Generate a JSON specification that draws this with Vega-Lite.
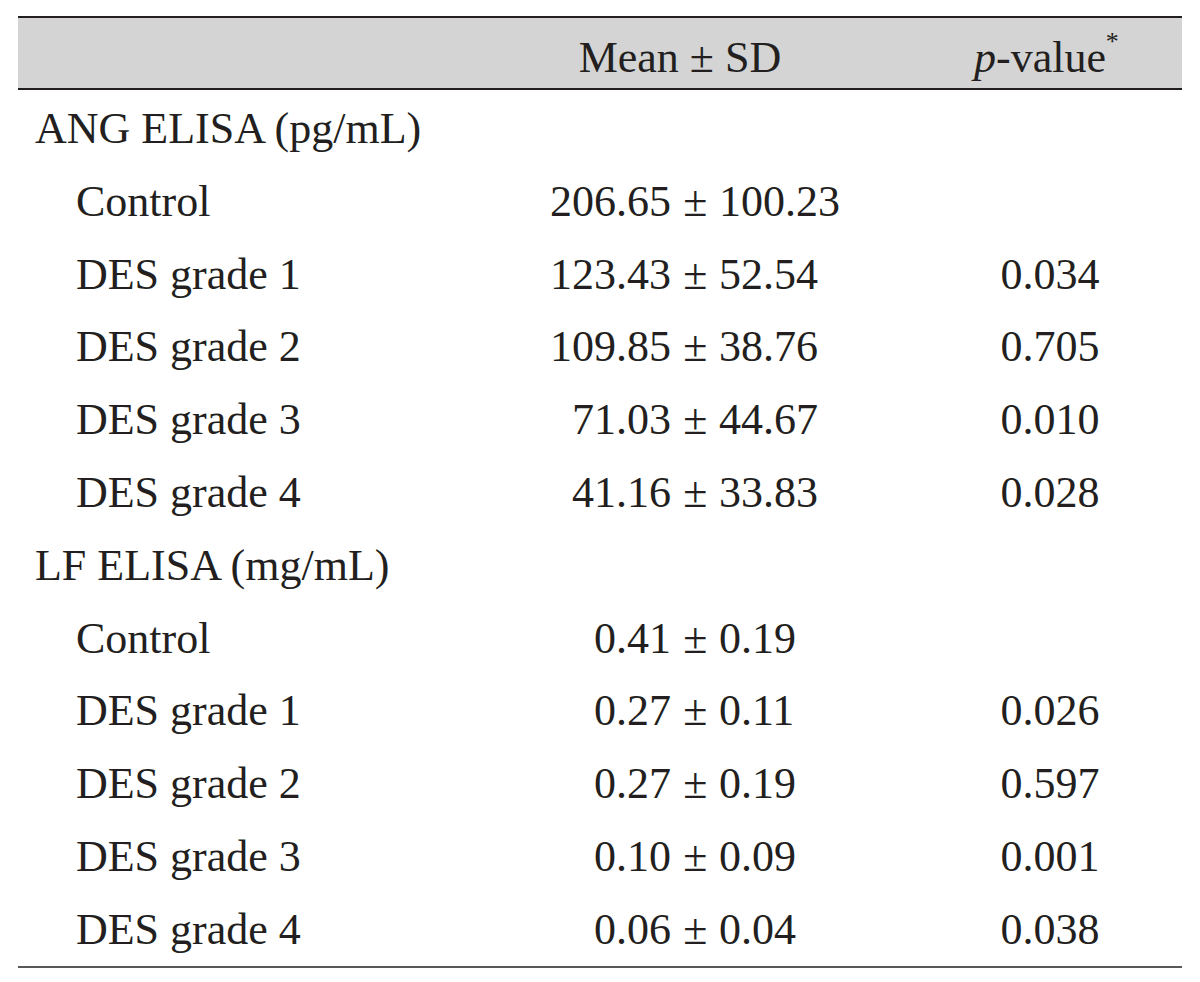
{
  "$schema": "https://vega.github.io/schema/vega-lite/v6.json",
  "width": 1164,
  "height": 982,
  "autosize": {"type": "none"},
  "padding": {"left": 18, "right": 18, "top": 0, "bottom": 0},
  "background": "white",
  "config": {"view": {"stroke": null}, "text": {"font": "Liberation Serif", "fontSize": 44, "color": "#231f20", "baseline": "alphabetic"}},
  "datasets": {
    "rows": [
      {"row": 1, "level": "group", "label": "ANG ELISA (pg/mL)"},
      {"row": 2, "level": "item", "label": "Control", "mean": "206.65", "sd": "100.23"},
      {"row": 3, "level": "item", "label": "DES grade 1", "mean": "123.43", "sd": "52.54", "p": "0.034"},
      {"row": 4, "level": "item", "label": "DES grade 2", "mean": "109.85", "sd": "38.76", "p": "0.705"},
      {"row": 5, "level": "item", "label": "DES grade 3", "mean": "71.03", "sd": "44.67", "p": "0.010"},
      {"row": 6, "level": "item", "label": "DES grade 4", "mean": "41.16", "sd": "33.83", "p": "0.028"},
      {"row": 7, "level": "group", "label": "LF ELISA (mg/mL)"},
      {"row": 8, "level": "item", "label": "Control", "mean": "0.41", "sd": "0.19"},
      {"row": 9, "level": "item", "label": "DES grade 1", "mean": "0.27", "sd": "0.11", "p": "0.026"},
      {"row": 10, "level": "item", "label": "DES grade 2", "mean": "0.27", "sd": "0.19", "p": "0.597"},
      {"row": 11, "level": "item", "label": "DES grade 3", "mean": "0.10", "sd": "0.09", "p": "0.001"},
      {"row": 12, "level": "item", "label": "DES grade 4", "mean": "0.06", "sd": "0.04", "p": "0.038"}
    ],
    "header": [{"row": 0, "mean": "Mean ± SD", "p": "p", "rest": "-value", "star": "*"}],
    "frame": [{"top": -0.731, "mid": 0.258, "bottom": 12.319}]
  },
  "encoding": {
    "y": {"field": "row", "type": "quantitative", "scale": {"domain": [-0.964, 12.525], "reverse": true, "zero": false, "nice": false}, "axis": null}
  },
  "layer": [
    {
      "data": {"name": "frame"},
      "mark": {"type": "rect", "color": "#d4d4d4"},
      "encoding": {
        "x": {"value": 0}, "x2": {"value": "width"},
        "y": {"field": "top", "type": "quantitative"},
        "y2": {"field": "mid"}
      }
    },
    {
      "data": {"name": "frame"},
      "mark": {"type": "rule", "color": "#231f20", "strokeWidth": 2},
      "encoding": {"x": {"value": 0}, "x2": {"value": "width"}, "y": {"field": "top", "type": "quantitative"}}
    },
    {
      "data": {"name": "frame"},
      "mark": {"type": "rule", "color": "#231f20", "strokeWidth": 2},
      "encoding": {"x": {"value": 0}, "x2": {"value": "width"}, "y": {"field": "mid", "type": "quantitative"}}
    },
    {
      "data": {"name": "frame"},
      "mark": {"type": "rule", "color": "#231f20", "strokeWidth": 1.5},
      "encoding": {"x": {"value": 0}, "x2": {"value": "width"}, "y": {"field": "bottom", "type": "quantitative"}}
    },
    {
      "data": {"name": "header"},
      "mark": {"type": "text", "align": "center", "dy": 2},
      "encoding": {"x": {"datum": 56.87, "type": "quantitative", "scale": {"domain": [0, 100], "nice": false, "zero": true}, "axis": null}, "text": {"field": "mean"}}
    },
    {
      "data": {"name": "header"},
      "mark": {"type": "text", "align": "right", "fontStyle": "italic", "dy": 2},
      "encoding": {"x": {"datum": 84.02, "type": "quantitative"}, "text": {"field": "p"}}
    },
    {
      "data": {"name": "header"},
      "mark": {"type": "text", "align": "left", "dy": 2},
      "encoding": {"x": {"datum": 84.02, "type": "quantitative"}, "text": {"field": "rest"}}
    },
    {
      "data": {"name": "header"},
      "mark": {"type": "text", "align": "left", "fontSize": 26, "dy": -20},
      "encoding": {"x": {"datum": 93.45, "type": "quantitative"}, "text": {"field": "star"}}
    },
    {
      "data": {"name": "rows"},
      "transform": [{"filter": "datum.level === 'group'"}],
      "mark": {"type": "text", "align": "left"},
      "encoding": {"x": {"datum": 1.46, "type": "quantitative"}, "text": {"field": "label"}}
    },
    {
      "data": {"name": "rows"},
      "transform": [{"filter": "datum.level === 'item'"}],
      "mark": {"type": "text", "align": "left"},
      "encoding": {"x": {"datum": 4.98, "type": "quantitative"}, "text": {"field": "label"}}
    },
    {
      "data": {"name": "rows"},
      "transform": [{"filter": "isValid(datum.mean)"}],
      "mark": {"type": "text", "align": "right"},
      "encoding": {"x": {"datum": 56.1, "type": "quantitative"}, "text": {"field": "mean"}}
    },
    {
      "data": {"name": "rows"},
      "transform": [{"filter": "isValid(datum.mean)"}],
      "mark": {"type": "text", "align": "center"},
      "encoding": {"x": {"datum": 58.2, "type": "quantitative"}, "text": {"value": "±"}}
    },
    {
      "data": {"name": "rows"},
      "transform": [{"filter": "isValid(datum.sd)"}],
      "mark": {"type": "text", "align": "left"},
      "encoding": {"x": {"datum": 60.22, "type": "quantitative"}, "text": {"field": "sd"}}
    },
    {
      "data": {"name": "rows"},
      "transform": [{"filter": "isValid(datum.p)"}],
      "mark": {"type": "text", "align": "center"},
      "encoding": {"x": {"datum": 88.66, "type": "quantitative"}, "text": {"field": "p"}}
    }
  ]
}
